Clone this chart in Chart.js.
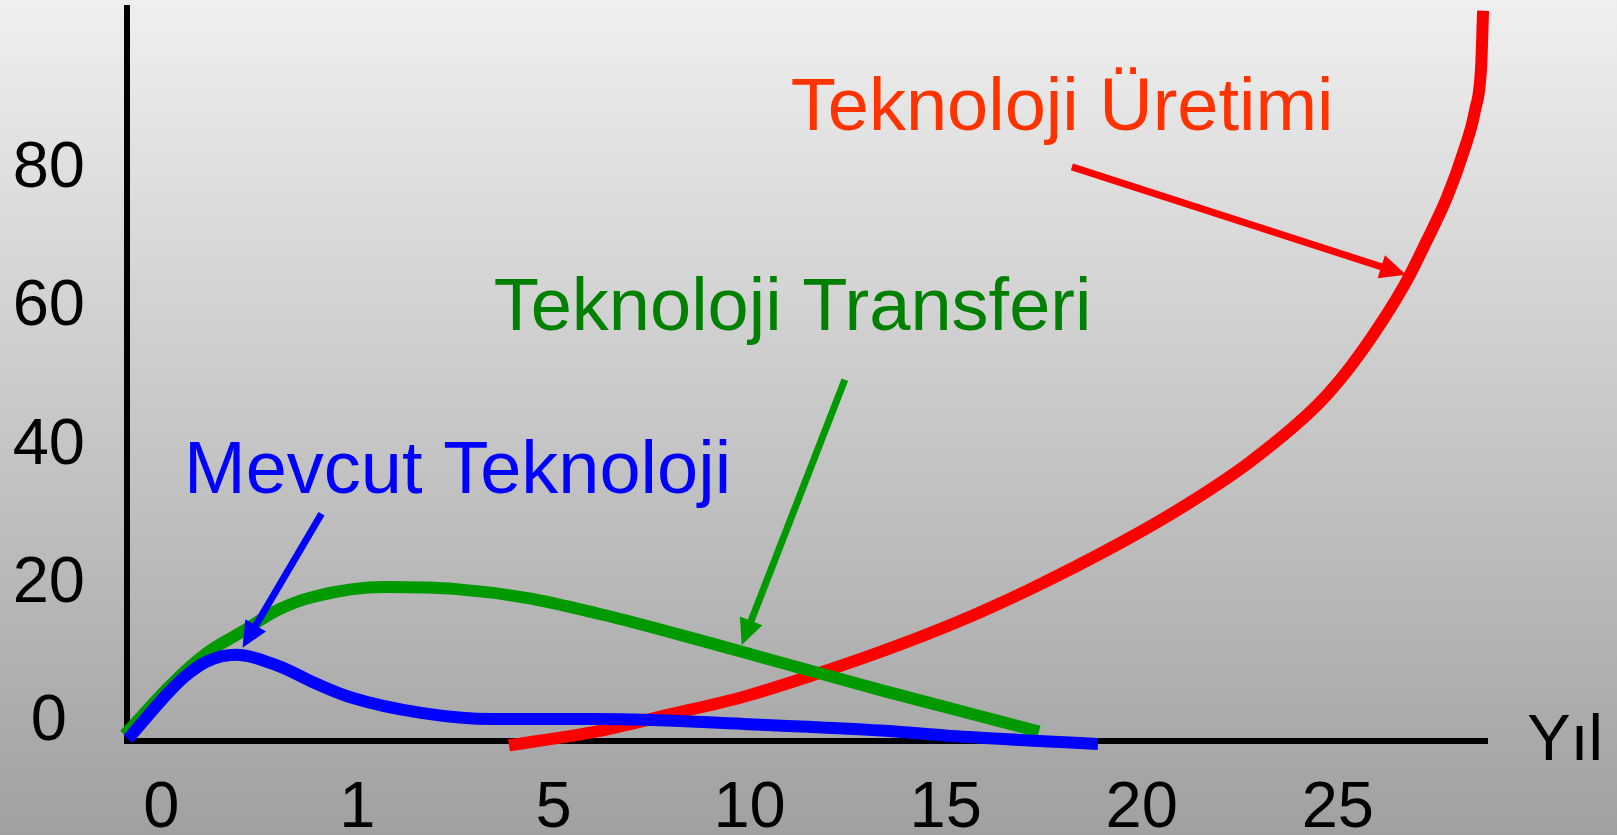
<!DOCTYPE html>
<html><head><meta charset="utf-8">
<script src="https://cdn.jsdelivr.net/npm/chart.js@4.4.1/dist/chart.umd.min.js"></script>
<style>
html,body{margin:0;padding:0;}
body{width:1617px;height:835px;overflow:hidden;background:linear-gradient(to bottom,#efefef 0%,#a0a0a0 100%);}
canvas{display:block;}
</style></head><body>
<canvas id="c" width="1617" height="835"></canvas>
<script>
// Category tick labels (years) and value ticks
const xTickLabels = ['0','1','5','10','15','20','25'];
const yTickValues = [0,20,40,60,80];

// Mevcut Teknoloji (blue)
const mevcutX = [-0.17,0.049,0.14,0.23,0.377,0.596,0.777,0.96,1.325,1.69,2.236,2.964,3.693,4.057,4.42,4.777];
const mevcutY = [-2.9,4.2,6.6,8.3,9.3,7.7,5.3,3.2,0.9,0.0,0.0,-0.7,-1.7,-2.5,-3.1,-3.6];

// Teknoloji Transferi (green)
const transferX = [-0.187,0.047,0.23,0.41,0.595,0.777,1.142,1.506,1.87,2.236,2.54,2.965,3.693,4.057,4.476];
const transferY = [-2.3,4.9,9.5,12.6,15.8,17.7,19.1,18.8,17.5,15.2,13.0,9.7,4.0,1.3,-1.8];

// Teknoloji Üretimi (red)
const uretimX = [1.773,2.236,2.597,2.966,3.328,3.695,4.057,4.424,4.873,5.21,5.552,5.894,6.062,6.23,6.353,6.455,6.557,6.639,6.70,6.731,6.741];
const uretimY = [-3.8,-1.7,0.7,3.2,6.4,10.0,14.0,18.7,25.2,30.7,37.2,45.4,50.9,57.7,63.5,69.3,75.5,81.9,88.1,94.4,102.5];

const FONT = '"Liberation Sans", Arial, Helvetica, sans-serif';

const labelTexts = ['Teknoloji Üretimi','Teknoloji Transferi','Mevcut Teknoloji'];
const annotations = [
  {text: labelTexts[0], color:'#ff3300', x:3.21, y:85.2},
  {text: labelTexts[1], color:'#008000', x:1.695, y:56.3},
  {text: labelTexts[2], color:'#0000ff', x:0.116, y:32.7}
];
const arrows = [
  {color:'#ff0000', from:[4.644,79.9], to:[6.348,64.3]},
  {color:'#009900', from:[3.486,49.1], to:[2.96,10.7]},
  {color:'#0000ff', from:[0.817,29.7], to:[0.414,10.3]}
];
const axisTitle = {text:'Yıl', x:6.966, y:-5.9};

function pts(xs, ys){ return xs.map((v,i)=>({x:v, y:ys[i]})); }

const annotPlugin = {
  id:'annot',
  afterDatasetsDraw(chart){
    const {ctx, scales:{x, y}} = chart;
    ctx.save();
    arrows.forEach(a => {
      const x1 = x.getPixelForValue(a.from[0]), y1 = y.getPixelForValue(a.from[1]);
      const x2 = x.getPixelForValue(a.to[0]), y2 = y.getPixelForValue(a.to[1]);
      const ang = Math.atan2(y2-y1, x2-x1);
      const headLen = 26, headW = 12;
      const bx = x2 - headLen*Math.cos(ang), by = y2 - headLen*Math.sin(ang);
      ctx.strokeStyle = a.color; ctx.lineWidth = 7; ctx.lineCap = 'butt';
      ctx.beginPath(); ctx.moveTo(x1,y1);
      ctx.lineTo(bx + 2*Math.cos(ang), by + 2*Math.sin(ang)); ctx.stroke();
      ctx.fillStyle = a.color;
      ctx.beginPath(); ctx.moveTo(x2,y2);
      ctx.lineTo(bx + headW*Math.sin(ang), by - headW*Math.cos(ang));
      ctx.lineTo(bx - headW*Math.sin(ang), by + headW*Math.cos(ang));
      ctx.closePath(); ctx.fill();
    });
    ctx.font = '74px ' + FONT; ctx.textBaseline = 'alphabetic'; ctx.textAlign = 'left';
    annotations.forEach(t => {
      ctx.fillStyle = t.color;
      ctx.fillText(t.text, x.getPixelForValue(t.x), y.getPixelForValue(t.y));
    });
    ctx.font = '65px ' + FONT; ctx.fillStyle = '#000';
    ctx.fillText(axisTitle.text, x.getPixelForValue(axisTitle.x), y.getPixelForValue(axisTitle.y));
    ctx.restore();
  }
};

const common = {borderWidth:12, pointRadius:0, cubicInterpolationMode:'monotone', clip:false, fill:false};

new Chart(document.getElementById('c'), {
  type:'line',
  data:{datasets:[
    Object.assign({label:labelTexts[2], data:pts(mevcutX, mevcutY), borderColor:'#0000ff'}, common),
    Object.assign({label:labelTexts[1], data:pts(transferX, transferY), borderColor:'#009900'}, common),
    Object.assign({label:labelTexts[0], data:pts(uretimX, uretimY), borderColor:'#ff0000'}, common)
  ]},
  options:{
    responsive:false, animation:false, events:[],
    layout:{padding:{top:8, right:130, bottom:0, left:0}, autoPadding:false},
    plugins:{legend:{display:false}, tooltip:{enabled:false}},
    scales:{
      x:{
        type:'linear', min:-0.175, max:6.761,
        grid:{display:false}, border:{display:true, color:'#000', width:6},
        afterBuildTicks: s => { s.ticks = xTickLabels.map((_,i)=>({value:i})); },
        afterFit: s => { s.height = 94; s.paddingLeft = 0; s.paddingRight = 0; s.paddingTop = 0; s.paddingBottom = 0; },
        ticks:{autoSkip:false, maxRotation:0, minRotation:0, padding:21, color:'#000',
               font:{family:FONT, size:65}, callback: v => xTickLabels[v]}
      },
      y:{
        type:'linear', min:-3.18, max:102.9,
        grid:{display:false}, border:{display:true, color:'#000', width:6},
        afterBuildTicks: s => { s.ticks = yTickValues.map(v=>({value:v})); },
        afterFit: s => { s.width = 127; s.paddingTop = 0; s.paddingBottom = 0; s.paddingLeft = 0; s.paddingRight = 0; },
        ticks:{crossAlign:'center', padding:34, labelOffset:3, color:'#000',
               font:{family:FONT, size:65}, callback: v => String(v)}
      }
    }
  },
  plugins:[annotPlugin]
});
</script>
</body></html>
